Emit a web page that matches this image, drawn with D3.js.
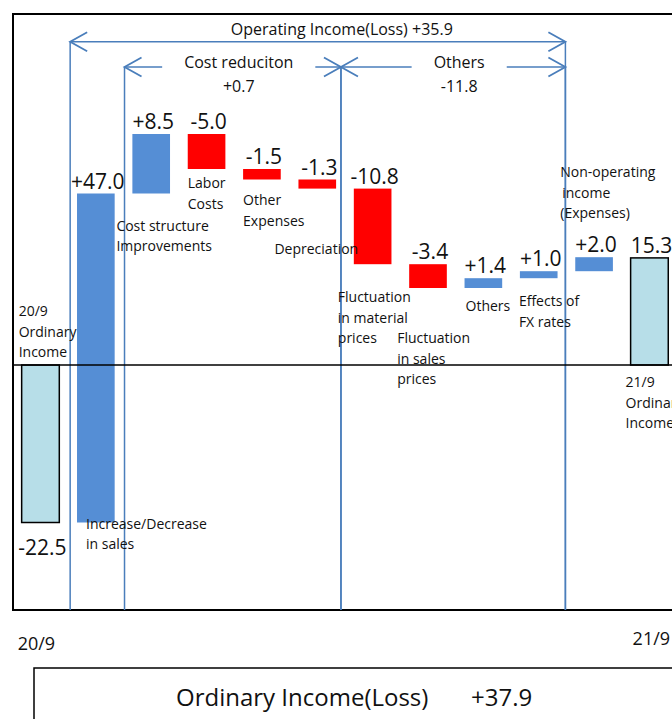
<!DOCTYPE html>
<html>
<head>
<meta charset="utf-8">
<script src="https://cdn.jsdelivr.net/npm/d3@7"></script>
<style>
  body { margin: 0; background: #fff; }
  svg { display: block; font-family: "Open Sans", "Noto Sans", sans-serif; }
</style>
</head>
<body>
<div id="waterfall"></div>
<script>
// --- data ---
var categories = ["20/9", "Increase/Decrease in sales", "Cost structure Improvements", "Labor Costs",
  "Other Expenses", "Depreciation", "Fluctuation in material prices", "Fluctuation in sales prices",
  "Others", "Effects of FX rates", "Non-operating income (Expenses)", "21/9"];
var noteLines = [["20/9", "Ordinary", "Income"], ["Increase/Decrease", "in sales"],
  ["Cost structure", "Improvements"], ["Labor", "Costs"], ["Other", "Expenses"], ["Depreciation"],
  ["Fluctuation", "in material", "prices"], ["Fluctuation", "in sales", "prices"], ["Others"],
  ["Effects of", "FX rates"], ["Non-operating", "income", "(Expenses)"], ["21/9", "Ordinary", "Income"]];
var values = [-22.5, 47.0, 8.5, -5.0, -1.5, -1.3, -10.8, -3.4, 1.4, 1.0, 2.0, 15.3];
var valueLabels = ["-22.5", "+47.0", "+8.5", "-5.0", "-1.5", "-1.3", "-10.8", "-3.4", "+1.4", "+1.0", "+2.0", "15.3"];
var isTotal = [true, false, false, false, false, false, false, false, false, false, false, true];
var tickLabels = ["20/9", "21/9"];

var bracketTitles = ["Operating Income(Loss) +35.9", "Cost reduciton", "Others"];
var bracketValues = ["", "+0.7", "-11.8"];
var bracketFrom = [1, 2, 6];
var bracketTo = [10, 6, 10];

var summaryTitle = "Ordinary Income(Loss)";
var summaryValue = "+37.9";

// --- layout ---
var width = 672, height = 719;
var frame = {left: 13, top: 14, bottom: 610};
var blue = "#558ED5", red = "#FF0000", pale = "#B7DEE8", lineBlue = "#4A7EBB";

// note offsets: [dx from band start, dy of first line centre, measured from bar "top" or "bottom"]
var notePlace = [[-3, -54, "top"], [9, 1, "bottom"], [-16, 32, "bottom"], [0, 14, "bottom"],
  [0, 20.5, "bottom"], [-24, 60, "bottom"], [-16, 33, "bottom"], [-12, 50, "bottom"],
  [1, 18, "bottom"], [-1, 23, "bottom"], [-15, -85, "top"], [-5, 17, "bottom"]];
// bracket lines: y of arrow, nudges of left/right verticals, title shift
var bracketY = [41.7, 67, 67];
var bracketNudge = [[2, -1], [1, -4], [-4, -1]];
var bracketTextDx = [24, 6, 6];

var x = d3.scaleBand()
  .domain(categories)
  .range([12.8, 12.8 + 55.36 * categories.length])
  .paddingInner(0.32)
  .paddingOuter(0.16);

var y = d3.scaleLinear()
  .domain([-35, 50.143])
  .range([frame.bottom, frame.top]);

// running totals for the waterfall
var run = 0;
var bars = categories.map(function (c, i) {
  var start, end;
  if (isTotal[i]) { start = 0; end = values[i]; run = values[i]; }
  else { start = run; end = run + values[i]; run = end; }
  return {name: c, i: i, lo: Math.min(start, end), hi: Math.max(start, end), v: values[i]};
});

var svg = d3.select("#waterfall")
  .append("svg")
  .attr("width", width)
  .attr("height", height);

// frame
svg.append("rect")
  .attr("x", frame.left).attr("y", frame.top)
  .attr("width", 720).attr("height", frame.bottom - frame.top)
  .attr("fill", "none").attr("stroke", "#000").attr("stroke-width", 2);

function edge(idx, nudge) {
  return x(categories[idx]) - x.step() * x.paddingInner() / 2 + nudge;
}

// bracket verticals first, under the bars
bracketFrom.forEach(function (f, k) {
  [edge(f, bracketNudge[k][0]), edge(bracketTo[k], bracketNudge[k][1])].forEach(function (xx) {
    svg.append("line")
      .attr("x1", xx).attr("x2", xx)
      .attr("y1", bracketY[k]).attr("y2", frame.bottom)
      .attr("stroke", lineBlue).attr("stroke-width", 1.5);
  });
});

// bars
svg.selectAll(".bar")
  .data(bars)
  .enter().append("rect")
  .attr("class", "bar")
  .attr("x", function (d) { return x(d.name); })
  .attr("width", x.bandwidth())
  .attr("y", function (d) { return y(d.hi); })
  .attr("height", function (d) { return y(d.lo) - y(d.hi); })
  .attr("fill", function (d) { return isTotal[d.i] ? pale : (d.v >= 0 ? blue : red); })
  .attr("stroke", function (d) { return isTotal[d.i] ? "#000" : "none"; })
  .attr("stroke-width", 1.5);

// zero line
svg.append("line")
  .attr("x1", frame.left).attr("x2", width + 20)
  .attr("y1", y(0)).attr("y2", y(0))
  .attr("stroke", "#000").attr("stroke-width", 1.5);

// value labels
svg.selectAll(".val")
  .data(bars)
  .enter().append("text")
  .attr("class", "val")
  .attr("x", function (d) { return x(d.name) + x.bandwidth() / 2 + 2; })
  .attr("y", function (d) { return d.v < 0 && isTotal[d.i] ? y(d.lo) + 32 : y(d.hi) - 5; })
  .attr("text-anchor", "middle")
  .style("font-size", "21px")
  .style("fill", "#111")
  .text(function (d) { return valueLabels[d.i]; });

// category notes
bars.forEach(function (d) {
  var p = notePlace[d.i];
  var base = p[2] === "top" ? y(d.hi) : y(d.lo);
  var t = svg.append("text")
    .attr("x", x(d.name) + p[0])
    .style("font-size", "14px")
    .style("fill", "#111");
  noteLines[d.i].forEach(function (line, j) {
    t.append("tspan")
      .attr("x", x(d.name) + p[0] + (d.i === 10 && j === 1 ? 2 : 0))
      .attr("y", base + p[1] + j * 20.5)
      .attr("dy", "0.36em")
      .text(line);
  });
});

// bracket arrows with titles
function chevron(xt, yy, dir) {
  svg.append("path")
    .attr("d", "M" + (xt + dir * 17) + "," + (yy - 9.5) + "L" + xt + "," + yy + "L" + (xt + dir * 17) + "," + (yy + 9.5))
    .attr("fill", "none").attr("stroke", lineBlue).attr("stroke-width", 1.8);
}

bracketFrom.forEach(function (f, k) {
  var x1 = edge(f, bracketNudge[k][0]), x2 = edge(bracketTo[k], bracketNudge[k][1]);
  var yy = bracketY[k];
  var cx = (x1 + x2) / 2 + bracketTextDx[k];
  var title = svg.append("text")
    .attr("x", cx)
    .attr("text-anchor", "middle")
    .style("font-size", "16px")
    .style("fill", "#111")
    .text(bracketTitles[k]);
  if (bracketValues[k] === "") {
    title.attr("y", yy - 7);
    svg.append("line").attr("x1", x1).attr("x2", x2).attr("y1", yy).attr("y2", yy)
      .attr("stroke", lineBlue).attr("stroke-width", 1.5);
  } else {
    title.attr("y", yy + 0.5);
    svg.append("text")
      .attr("x", cx).attr("y", yy + 24.5)
      .attr("text-anchor", "middle")
      .style("font-size", "16px")
      .style("fill", "#111")
      .text(bracketValues[k]);
    var half = title.node().getComputedTextLength() / 2 + 22;
    svg.append("line").attr("x1", x1).attr("x2", cx - half).attr("y1", yy).attr("y2", yy)
      .attr("stroke", lineBlue).attr("stroke-width", 1.5);
    svg.append("line").attr("x1", cx + half).attr("x2", x2).attr("y1", yy).attr("y2", yy)
      .attr("stroke", lineBlue).attr("stroke-width", 1.5);
  }
  chevron(x1, yy, 1);
  chevron(x2, yy, -1);
});

// period labels under the frame
svg.append("text")
  .attr("x", x(categories[0]) - 4).attr("y", 650)
  .style("font-size", "18px").style("fill", "#111")
  .text(tickLabels[0]);
svg.append("text")
  .attr("x", x(categories[categories.length - 1]) + 2).attr("y", 645)
  .style("font-size", "18px").style("fill", "#111")
  .text(tickLabels[1]);

// summary box
svg.append("rect")
  .attr("x", 34).attr("y", 668)
  .attr("width", 700).attr("height", 100)
  .attr("fill", "#fff").attr("stroke", "#000").attr("stroke-width", 1.5);
svg.append("text")
  .attr("x", 176).attr("y", 706)
  .style("font-size", "24px").style("fill", "#111")
  .text(summaryTitle);
svg.append("text")
  .attr("x", 471).attr("y", 706)
  .style("font-size", "24px").style("fill", "#111")
  .text(summaryValue);
</script>
</body>
</html>
